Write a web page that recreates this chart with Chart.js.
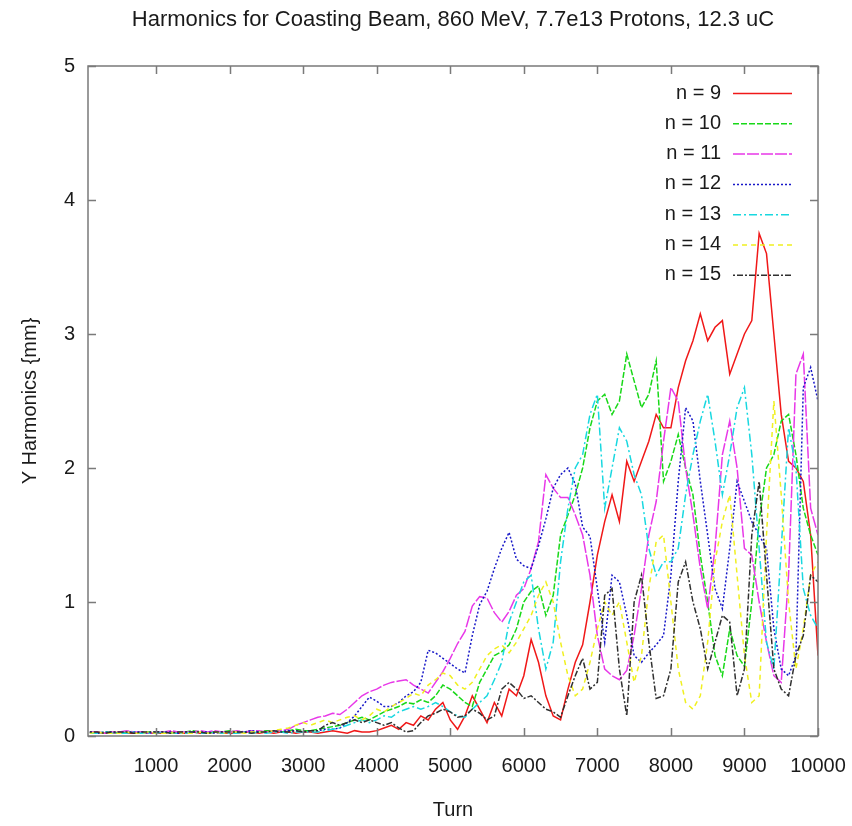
<!DOCTYPE html>
<html>
<head>
<meta charset="utf-8">
<title>Harmonics for Coasting Beam</title>
<script src="https://cdn.jsdelivr.net/npm/chart.js@4.4.1/dist/chart.umd.min.js"></script>
<style>
  html, body { margin: 0; padding: 0; background: #ffffff; }
  #wrap { width: 852px; height: 826px; }
</style>
</head>
<body>
<div id="wrap"><canvas id="harmonics" width="852" height="826"></canvas></div>
<script>
// turn number of each sample
const turns = [
  100, 200, 300, 400, 500, 600, 700, 800, 900, 1000,
  1100, 1200, 1300, 1400, 1500, 1600, 1700, 1800, 1900, 2000,
  2100, 2200, 2300, 2400, 2500, 2600, 2700, 2800, 2900, 3000,
  3100, 3200, 3300, 3400, 3500, 3600, 3700, 3800, 3900, 4000,
  4100, 4200, 4300, 4400, 4500, 4600, 4700, 4800, 4900, 5000,
  5100, 5200, 5300, 5400, 5500, 5600, 5700, 5800, 5900, 6000,
  6100, 6200, 6300, 6400, 6500, 6600, 6700, 6800, 6900, 7000,
  7100, 7200, 7300, 7400, 7500, 7600, 7700, 7800, 7900, 8000,
  8100, 8200, 8300, 8400, 8500, 8600, 8700, 8800, 8900, 9000,
  9100, 9200, 9300, 9400, 9500, 9600, 9700, 9800, 9900, 10000
];

// Y harmonic amplitudes (mm), one array per harmonic number
const n9 = [
  0.02, 0.03, 0.02, 0.02, 0.03, 0.02, 0.02, 0.03, 0.02, 0.02,
  0.02, 0.03, 0.02, 0.02, 0.03, 0.02, 0.02, 0.03, 0.02, 0.02,
  0.02, 0.03, 0.03, 0.02, 0.03, 0.02, 0.03, 0.03, 0.02, 0.03,
  0.03, 0.02, 0.03, 0.04, 0.03, 0.02, 0.04, 0.03, 0.03, 0.04,
  0.06, 0.08, 0.05, 0.10, 0.08, 0.15, 0.12, 0.20, 0.25, 0.12,
  0.05, 0.15, 0.30, 0.20, 0.10, 0.25, 0.15, 0.35, 0.30, 0.45,
  0.72, 0.55, 0.30, 0.15, 0.12, 0.35, 0.55, 0.68, 1.00, 1.35,
  1.60, 1.80, 1.60, 2.05, 1.90, 2.05, 2.20, 2.40, 2.30, 2.30,
  2.60, 2.80, 2.95, 3.15, 2.95, 3.05, 3.10, 2.70, 2.85, 3.00,
  3.10, 3.75, 3.60, 3.00, 2.40, 2.05, 2.00, 1.90, 1.50, 0.60
];
const n10 = [
  0.03, 0.02, 0.03, 0.03, 0.02, 0.03, 0.03, 0.02, 0.03, 0.03,
  0.03, 0.02, 0.03, 0.03, 0.04, 0.03, 0.02, 0.03, 0.03, 0.04,
  0.03, 0.03, 0.04, 0.03, 0.04, 0.04, 0.03, 0.04, 0.05, 0.04,
  0.04, 0.05, 0.06, 0.07, 0.08, 0.10, 0.12, 0.14, 0.12, 0.15,
  0.18, 0.20, 0.22, 0.25, 0.24, 0.27, 0.25, 0.30, 0.38, 0.35,
  0.30, 0.25, 0.22, 0.40, 0.50, 0.60, 0.63, 0.68, 0.80, 1.00,
  1.08, 1.12, 0.90, 1.05, 1.50, 1.65, 1.80, 2.00, 2.30, 2.50,
  2.55, 2.40, 2.50, 2.85, 2.65, 2.45, 2.55, 2.80, 1.90, 2.05,
  2.25, 2.00, 1.80, 1.35, 1.00, 0.60, 0.45, 0.80, 0.60, 0.52,
  1.00, 1.60, 2.00, 2.10, 2.35, 2.40, 2.10, 1.70, 1.50, 1.35
];
const n11 = [
  0.03, 0.03, 0.02, 0.03, 0.03, 0.04, 0.03, 0.03, 0.02, 0.03,
  0.03, 0.04, 0.03, 0.03, 0.03, 0.04, 0.03, 0.04, 0.03, 0.03,
  0.04, 0.03, 0.04, 0.04, 0.03, 0.04, 0.04, 0.05, 0.08, 0.10,
  0.12, 0.14, 0.15, 0.17, 0.16, 0.20, 0.25, 0.30, 0.33, 0.35,
  0.38, 0.40, 0.41, 0.42, 0.38, 0.35, 0.32, 0.40, 0.48, 0.58,
  0.69, 0.78, 0.97, 1.04, 1.03, 0.92, 0.85, 0.93, 1.05, 1.10,
  1.25, 1.45, 1.95, 1.85, 1.78, 1.78, 1.65, 1.50, 1.20, 0.75,
  0.50, 0.45, 0.42, 0.49, 0.75, 1.10, 1.50, 1.75, 2.20, 2.60,
  2.50, 2.00, 1.65, 1.25, 0.95, 1.40, 2.10, 2.35, 2.00, 1.40,
  1.35, 1.00, 0.70, 0.45, 0.40, 1.20, 2.70, 2.85, 1.70, 1.50
];
const n12 = [
  0.03, 0.02, 0.03, 0.03, 0.02, 0.03, 0.03, 0.03, 0.02, 0.03,
  0.03, 0.03, 0.02, 0.03, 0.03, 0.03, 0.03, 0.02, 0.03, 0.03,
  0.03, 0.03, 0.04, 0.03, 0.03, 0.04, 0.03, 0.04, 0.04, 0.03,
  0.04, 0.04, 0.05, 0.05, 0.06, 0.10, 0.15, 0.22, 0.29, 0.26,
  0.22, 0.22, 0.25, 0.30, 0.33, 0.40, 0.64, 0.62, 0.58, 0.54,
  0.50, 0.47, 0.75, 0.98, 1.08, 1.25, 1.40, 1.52, 1.32, 1.27,
  1.25, 1.42, 1.62, 1.85, 1.95, 2.00, 1.88, 1.56, 1.49, 1.10,
  0.70, 1.20, 1.15, 0.90, 0.60, 0.55, 0.62, 0.68, 0.75, 1.20,
  1.90, 2.45, 2.35, 1.90, 1.50, 1.10, 0.95, 1.40, 1.90, 1.75,
  1.60, 1.50, 1.40, 0.80, 0.50, 0.45, 0.60, 2.60, 2.75, 2.50
];
const n13 = [
  0.02, 0.02, 0.03, 0.02, 0.02, 0.02, 0.03, 0.02, 0.02, 0.02,
  0.03, 0.02, 0.02, 0.02, 0.03, 0.02, 0.02, 0.03, 0.02, 0.02,
  0.02, 0.03, 0.02, 0.03, 0.02, 0.03, 0.03, 0.02, 0.03, 0.03,
  0.03, 0.03, 0.04, 0.05, 0.06, 0.08, 0.10, 0.12, 0.10, 0.12,
  0.15, 0.14, 0.18, 0.20, 0.22, 0.20, 0.22, 0.25, 0.22, 0.18,
  0.15, 0.14, 0.20, 0.25, 0.30, 0.42, 0.55, 0.85, 1.00, 1.15,
  1.20, 0.80, 0.50, 0.70, 1.30, 1.70, 2.00, 2.10, 2.40, 2.55,
  1.70, 2.00, 2.30, 2.20, 1.95, 1.80, 1.40, 1.20, 1.30, 1.30,
  1.40, 1.80, 2.10, 2.35, 2.55, 2.20, 1.80, 2.10, 2.45, 2.60,
  2.10, 1.40, 0.70, 0.50, 1.40, 2.30, 2.00, 1.10, 0.90, 0.80
];
const n14 = [
  0.02, 0.03, 0.02, 0.02, 0.02, 0.03, 0.02, 0.02, 0.03, 0.02,
  0.02, 0.02, 0.03, 0.02, 0.02, 0.03, 0.02, 0.03, 0.02, 0.03,
  0.03, 0.02, 0.03, 0.03, 0.03, 0.04, 0.05, 0.06, 0.08, 0.10,
  0.08, 0.10, 0.12, 0.10, 0.12, 0.14, 0.15, 0.12, 0.15, 0.20,
  0.18, 0.22, 0.25, 0.28, 0.32, 0.30, 0.38, 0.42, 0.47, 0.45,
  0.38, 0.35, 0.40, 0.50, 0.60, 0.65, 0.68, 0.62, 0.70, 0.80,
  0.90, 1.05, 1.15, 1.00, 0.70, 0.45, 0.30, 0.35, 0.55, 0.80,
  1.00, 0.90, 1.00, 0.70, 0.40, 0.60, 1.10, 1.45, 1.50, 1.00,
  0.50, 0.25, 0.20, 0.30, 0.70, 1.30, 1.60, 1.80, 1.20, 0.60,
  0.25, 0.30, 1.50, 2.50, 1.80, 1.00, 0.50, 0.80, 1.20, 1.30
];
const n15 = [
  0.03, 0.03, 0.02, 0.03, 0.03, 0.03, 0.02, 0.03, 0.03, 0.03,
  0.03, 0.02, 0.03, 0.03, 0.03, 0.03, 0.02, 0.03, 0.03, 0.03,
  0.03, 0.03, 0.02, 0.03, 0.03, 0.04, 0.03, 0.03, 0.04, 0.03,
  0.04, 0.04, 0.08, 0.10, 0.08, 0.10, 0.12, 0.10, 0.12, 0.10,
  0.08, 0.10, 0.06, 0.03, 0.04, 0.10, 0.15, 0.17, 0.20, 0.18,
  0.14, 0.15, 0.20, 0.17, 0.12, 0.15, 0.35, 0.40, 0.35, 0.28,
  0.30, 0.25, 0.20, 0.18, 0.14, 0.30, 0.45, 0.58, 0.35, 0.40,
  1.05, 1.10, 0.50, 0.15, 1.00, 1.20, 0.70, 0.28, 0.30, 0.50,
  1.15, 1.30, 1.00, 0.80, 0.50, 0.70, 0.90, 0.85, 0.30, 0.50,
  1.50, 1.90, 1.20, 0.50, 0.35, 0.30, 0.60, 0.75, 1.20, 1.15
];

const seriesLabels = ['n = 9', 'n = 10', 'n = 11', 'n = 12', 'n = 13', 'n = 14', 'n = 15'];
const seriesValues = [n9, n10, n11, n12, n13, n14, n15];
const seriesColors = ['#f01818', '#18d818', '#e838e8', '#1818c8', '#18d8e0', '#f0f020', '#303030'];
const seriesDashes = [[], [6, 2], [12, 2], [2, 2], [8, 3, 2, 3], [5, 4], [2, 2, 6, 2]];

const xTickValues = [1000, 2000, 3000, 4000, 5000, 6000, 7000, 8000, 9000, 10000];
const yTickValues = [0, 1, 2, 3, 4, 5];

const plotTitle = 'Harmonics for Coasting Beam, 860 MeV, 7.7e13 Protons, 12.3 uC';
const FONT = "'Liberation Sans', Arial, Helvetica, sans-serif";

// title centred over the plot box rather than the whole canvas
const plotTitleText = {
  id: 'plotTitleText',
  afterDraw(chart) {
    const { ctx, chartArea: { left, right } } = chart;
    ctx.save();
    ctx.font = '22px ' + FONT;
    ctx.fillStyle = '#1a1a1a';
    ctx.textAlign = 'center';
    ctx.textBaseline = 'middle';
    ctx.fillText(plotTitle, (left + right) / 2, 20);
    ctx.restore();
  }
};

// box round the plot with gnuplot-style inward tick marks
const plotFrame = {
  id: 'plotFrame',
  afterDatasetsDraw(chart) {
    const { ctx, chartArea: { left, right, top, bottom }, scales: { x, y } } = chart;
    const len = 8;
    ctx.save();
    ctx.strokeStyle = '#7a7a7a';
    ctx.lineWidth = 1.5;
    ctx.strokeRect(left, top, right - left, bottom - top);
    ctx.beginPath();
    xTickValues.forEach(v => {
      const px = Math.round(x.getPixelForValue(v)) + 0.5;
      ctx.moveTo(px, bottom); ctx.lineTo(px, bottom - len);
      ctx.moveTo(px, top); ctx.lineTo(px, top + len);
    });
    yTickValues.forEach(v => {
      const py = Math.round(y.getPixelForValue(v)) + 0.5;
      ctx.moveTo(left, py); ctx.lineTo(left + len, py);
      ctx.moveTo(right, py); ctx.lineTo(right - len, py);
    });
    ctx.stroke();
    ctx.restore();
  }
};

// key in the top right corner: label first, line sample after it
const seriesKey = {
  id: 'seriesKey',
  afterDraw(chart) {
    const { ctx, chartArea: { right, top } } = chart;
    ctx.save();
    ctx.font = '20px ' + FONT;
    ctx.textAlign = 'right';
    ctx.textBaseline = 'middle';
    chart.data.datasets.forEach((ds, i) => {
      const yy = top + 27 + i * 30.3;
      ctx.fillStyle = '#1a1a1a';
      ctx.fillText(ds.label, right - 97, yy);
      ctx.strokeStyle = ds.borderColor;
      ctx.lineWidth = 1.5;
      ctx.setLineDash(ds.borderDash);
      ctx.beginPath();
      ctx.moveTo(right - 85, yy + 0.5);
      ctx.lineTo(right - 26, yy + 0.5);
      ctx.stroke();
      ctx.setLineDash([]);
    });
    ctx.restore();
  }
};

const datasets = seriesLabels.map((label, i) => ({
  label,
  data: turns.map((t, k) => ({ x: t, y: seriesValues[i][k] })),
  borderColor: seriesColors[i],
  borderDash: seriesDashes[i],
  borderWidth: 1.5,
  pointRadius: 0,
  tension: 0,
  order: seriesLabels.length - i
}));

new Chart(document.getElementById('harmonics'), {
  type: 'line',
  data: { datasets },
  options: {
    responsive: false,
    animation: false,
    layout: { padding: { left: 0, right: 34, top: 66, bottom: 0 } },
    plugins: {
      legend: { display: false },
      tooltip: { enabled: false },
      title: { display: false }
    },
    scales: {
      x: {
        type: 'linear',
        min: 75,
        max: 10000,
        // tick marks are drawn by plotFrame; tickLength only spaces the labels
        grid: { display: false, drawTicks: true, tickLength: 17 },
        border: { display: false },
        afterBuildTicks: scale => { scale.ticks = xTickValues.map(v => ({ value: v })); },
        afterFit: scale => { scale.height = 90; },
        ticks: {
          color: '#1a1a1a',
          font: { family: FONT, size: 20 },
          padding: 1,
          maxRotation: 0,
          autoSkip: false,
          callback: v => String(v)
        },
        title: {
          display: true,
          text: 'Turn',
          color: '#1a1a1a',
          font: { family: FONT, size: 20 },
          padding: { top: 0, bottom: 4 }
        }
      },
      y: {
        min: 0,
        max: 5,
        grid: { display: false, drawTicks: false },
        border: { display: false },
        afterBuildTicks: scale => { scale.ticks = yTickValues.map(v => ({ value: v })); },
        afterFit: scale => { scale.width = 88; },
        ticks: {
          color: '#1a1a1a',
          font: { family: FONT, size: 20 },
          padding: 13
        },
        title: {
          display: true,
          text: 'Y Harmonics {mm}',
          color: '#1a1a1a',
          font: { family: FONT, size: 20 },
          padding: { top: 18, bottom: 0 }
        }
      }
    }
  },
  plugins: [plotTitleText, plotFrame, seriesKey]
});
</script>
</body>
</html>
